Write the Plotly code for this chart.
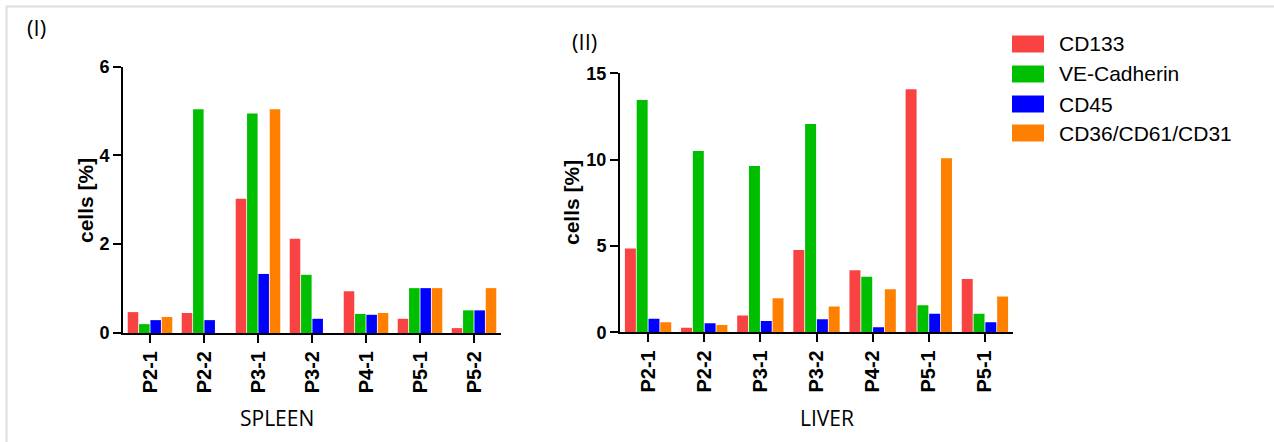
import plotly.graph_objects as go

W, H = 1274, 442

series = ["CD133", "VE-Cadherin", "CD45", "CD36/CD61/CD31"]
colors = ["#F94343", "#00BF00", "#0000FF", "#FF8000"]

spleen_labels = ["P2-1", "P2-2", "P3-1", "P3-2", "P4-1", "P5-1", "P5-2"]
spleen_cd133 = [0.47, 0.45, 3.02, 2.12, 0.94, 0.32, 0.11]
spleen_vecad = [0.20, 5.04, 4.94, 1.31, 0.43, 1.01, 0.51]
spleen_cd45 = [0.29, 0.29, 1.33, 0.32, 0.41, 1.01, 0.51]
spleen_cd36 = [0.36, 0.0, 5.04, 0.0, 0.45, 1.01, 1.01]

liver_labels = ["P2-1", "P2-2", "P3-1", "P3-2", "P4-2", "P5-1", "P5-1"]
liver_cd133 = [4.86, 0.27, 0.97, 4.77, 3.59, 14.07, 3.09]
liver_vecad = [13.46, 10.50, 9.63, 12.07, 3.22, 1.56, 1.08]
liver_cd45 = [0.79, 0.52, 0.66, 0.75, 0.29, 1.08, 0.58]
liver_cd36 = [0.58, 0.42, 1.97, 1.50, 2.49, 10.08, 2.08]

spleen_ticks = [0, 2, 4, 6]
liver_ticks = [0, 5, 10, 15]

spleen_data = [spleen_cd133, spleen_vecad, spleen_cd45, spleen_cd36]
liver_data = [liver_cd133, liver_vecad, liver_cd45, liver_cd36]

def px(x):
    return x / W

def py(y):
    return 1 - y / H

fig = go.Figure()
sx = list(range(len(spleen_labels)))
lx = list(range(len(liver_labels)))
for i, name in enumerate(series):
    fig.add_trace(go.Bar(x=sx, y=spleen_data[i], name=name, marker_color=colors[i],
                         marker_line_width=0, xaxis="x", yaxis="y", showlegend=False,
                         offsetgroup=str(i)))
for i, name in enumerate(series):
    fig.add_trace(go.Bar(x=lx, y=liver_data[i], name=name, marker_color=colors[i],
                         marker_line_width=0, xaxis="x2", yaxis="y2", showlegend=False,
                         offsetgroup=str(i)))

tickfont_y = dict(family="Liberation Sans, Arial", size=18, color="black", weight="bold")
tickfont_x = dict(family="Liberation Sans, Arial", size=20, color="black", weight="bold")

axis_common = dict(showline=True, linecolor="black", linewidth=2, showgrid=False,
                   zeroline=False, ticks="outside", tickcolor="black", tickwidth=2,
                   ticklen=8, automargin=False)

fig.update_layout(
    width=W, height=H,
    margin=dict(l=0, r=0, t=0, b=0, pad=0, autoexpand=False),
    paper_bgcolor="white", plot_bgcolor="white",
    barmode="group", bargap=0.16, bargroupgap=0.07,
    xaxis=dict(domain=[px(123), px(501)], range=[-0.5, 6.5], tickvals=sx,
               ticktext=spleen_labels, tickangle=-90, tickfont=tickfont_x,
               anchor="y", **axis_common),
    yaxis=dict(domain=[py(333), py(66.5)], range=[0, 6], tickvals=spleen_ticks,
               tickfont=tickfont_y, anchor="x", **axis_common),
    xaxis2=dict(domain=[px(620), px(1013)], range=[-0.5, 6.5], tickvals=lx,
                ticktext=liver_labels, tickangle=-90, tickfont=tickfont_x,
                anchor="y2", **axis_common),
    yaxis2=dict(domain=[py(332.3), py(73.3)], range=[0, 15], tickvals=liver_ticks,
                tickfont=tickfont_y, anchor="x2", **axis_common),
)

def ann(x, y, text, font, **kw):
    kw.setdefault("xanchor", "center")
    kw.setdefault("yanchor", "middle")
    return dict(x=px(x), y=py(y), xref="paper", yref="paper", text=text,
                showarrow=False, font=font, **kw)

bold_title = dict(family="Liberation Sans, Arial", size=21, color="black", weight="bold")
label_font = dict(family="Open Sans", size=21, color="black")
roman_font = dict(family="Open Sans", size=22, color="black")

annotations = [
    ann(86, 201, "cells [%]", bold_title, textangle=-90),
    ann(572, 203, "cells [%]", bold_title, textangle=-90),
    ann(277, 418, "SPLEEN", label_font),
    ann(827, 418, "LIVER", label_font),
    ann(36, 27, "(I)", roman_font),
    ann(584, 41, "(II)", roman_font),
]

shapes = [
    dict(type="line", xref="paper", yref="paper", x0=px(6), x1=px(1274), y0=py(6.5), y1=py(6.5),
         line=dict(color="#DDDDDD", width=2)),
    dict(type="line", xref="paper", yref="paper", x0=px(6.5), x1=px(6.5), y0=py(6), y1=py(442),
         line=dict(color="#DDDDDD", width=2)),
]

legend_rows = [44, 74, 104, 133]
legend_font = dict(family="Liberation Sans, Arial", size=21, color="black")
for name, col, cy in zip(series, colors, legend_rows):
    shapes.append(dict(type="rect", xref="paper", yref="paper", x0=px(1012), x1=px(1044),
                       y0=py(cy - 8.5), y1=py(cy + 8.5), fillcolor=col, line=dict(width=0)))
    annotations.append(ann(1057, cy, name, legend_font, xanchor="left", yanchor="middle"))

fig.update_layout(annotations=annotations, shapes=shapes)

post = (
    "document.body.style.margin='0';"
    "document.body.style.overflow='hidden';"
    "var d=document.getElementById('{plot_id}');"
    "d.style.position='fixed';d.style.top='0px';d.style.left='0px';"
)
fig.write_html("out.html", config={"displayModeBar": False}, post_script=post)
